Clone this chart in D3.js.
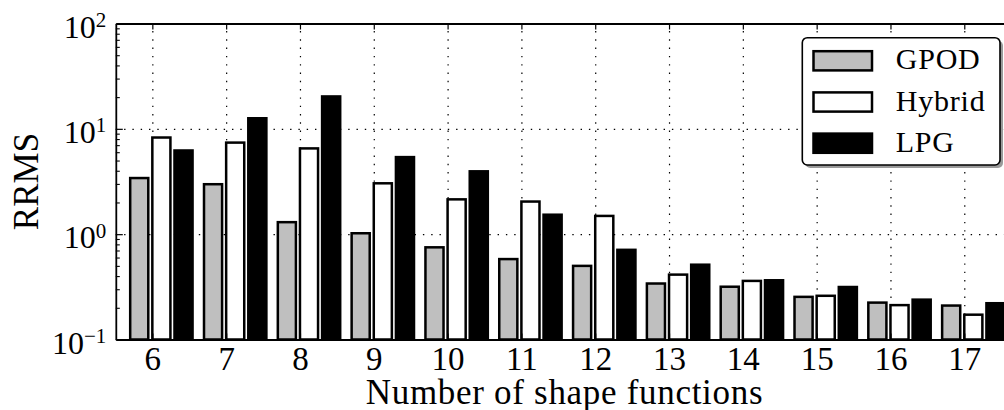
<!DOCTYPE html>
<html>
<head>
<meta charset="utf-8">
<script src="https://cdn.jsdelivr.net/npm/d3@7"></script>
<style>
  html, body { margin: 0; padding: 0; background: #ffffff; }
  svg { display: block; }
</style>
</head>
<body>
<svg id="chart" width="1004" height="410"></svg>
<script>
// Number of shape functions on the x axis
const categories = [6, 7, 8, 9, 10, 11, 12, 13, 14, 15, 16, 17];

// RRMS error per method
const gpod   = [3.41, 2.98, 1.30, 1.02, 0.75, 0.58, 0.50, 0.34, 0.317, 0.254, 0.224, 0.210];
const hybrid = [8.27, 7.40, 6.52, 3.04, 2.14, 2.04, 1.49, 0.413, 0.360, 0.260, 0.212, 0.172];
const lpg    = [6.23, 12.6, 20.3, 5.39, 3.95, 1.53, 0.71, 0.513, 0.365, 0.315, 0.239, 0.221];

const seriesNames = ["GPOD", "Hybrid", "LPG"];
const yTickExponents = [-1, 0, 1, 2];

const series = [
  { name: seriesNames[0], values: gpod,   fill: "#bfbfbf", offset: -0.3 },
  { name: seriesNames[1], values: hybrid, fill: "#ffffff", offset: 0 },
  { name: seriesNames[2], values: lpg,    fill: "#000000", offset: 0.3 }
];

const SERIF = "Liberation Serif";
const plot = { left: 115.8, top: 23.5, right: 1013, bottom: 339.5 };
const barWidth = 0.245;
const fontTickX = 33, fontTickY = 32, fontSup = 21;

const svg = d3.select("#chart").attr("font-family", SERIF);

const x = d3.scaleLinear().domain([5.505, 17.66]).range([plot.left, plot.right]);
const y = d3.scaleLog().domain([0.1, 100]).range([plot.bottom, plot.top]);

const majorY = yTickExponents.map(e => Math.pow(10, e));
const minorY = [];
for (let e = yTickExponents[0]; e < yTickExponents[yTickExponents.length - 1]; e++) {
  for (let k = 2; k <= 9; k++) minorY.push(k * Math.pow(10, e));
}

svg.append("defs").append("clipPath").attr("id", "plotClip")
  .append("rect")
  .attr("x", plot.left).attr("y", plot.top)
  .attr("width", plot.right - plot.left).attr("height", plot.bottom - plot.top);

// dotted grid, behind the bars
const gridStyle = g => {
  g.select(".domain").remove();
  g.selectAll(".tick line")
    .attr("stroke", "#000").attr("stroke-width", 1.2)
    .attr("stroke-dasharray", "1.4,6.9");
  g.selectAll(".tick text").remove();
};
svg.append("g")
  .attr("transform", `translate(0,${plot.bottom})`)
  .call(d3.axisBottom(x).tickValues(categories).tickSize(-(plot.bottom - plot.top)))
  .call(gridStyle);
svg.append("g")
  .attr("transform", `translate(${plot.left},0)`)
  .call(d3.axisLeft(y).tickValues([1, 10]).tickSize(-(plot.right - plot.left)))
  .call(gridStyle);

// bars
const bars = svg.append("g").attr("clip-path", "url(#plotClip)");
series.forEach(s => {
  bars.append("g").selectAll("rect")
    .data(s.values)
    .join("rect")
    .attr("x", (d, i) => x(categories[i] + s.offset))
    .attr("width", (d, i) => x(categories[i] + s.offset + barWidth) - x(categories[i] + s.offset))
    .attr("y", d => y(d))
    .attr("height", d => y(0.1) - y(d))
    .attr("fill", s.fill)
    .attr("stroke", "#000")
    .attr("stroke-width", 2.5);
});

// axes: inward ticks on all sides
const axisStyle = g => {
  g.attr("font-family", SERIF);
  g.select(".domain").attr("stroke", "#000").attr("stroke-width", 1.8);
  g.selectAll(".tick line").attr("stroke", "#000").attr("stroke-width", 1.2);
};

const xBottom = svg.append("g")
  .attr("transform", `translate(0,${plot.bottom})`)
  .call(d3.axisBottom(x).tickValues(categories).tickSize(-6).tickSizeOuter(0).tickPadding(7))
  .call(axisStyle);
xBottom.attr("font-size", fontTickX);
xBottom.selectAll(".tick text").attr("fill", "#000");

svg.append("g")
  .attr("transform", `translate(0,${plot.top})`)
  .call(d3.axisTop(x).tickValues(categories).tickSize(-6).tickSizeOuter(0).tickFormat(""))
  .call(axisStyle);

const yLeft = svg.append("g")
  .attr("transform", `translate(${plot.left},0)`)
  .call(d3.axisLeft(y).tickValues(majorY).tickSize(-7).tickSizeOuter(0).tickPadding(9.5).tickFormat(""))
  .call(axisStyle);
yLeft.attr("font-size", fontTickY);

svg.append("g")
  .attr("transform", `translate(${plot.left},0)`)
  .call(d3.axisLeft(y).tickValues(minorY).tickSize(-4).tickSizeOuter(0).tickFormat(""))
  .call(g => g.select(".domain").remove())
  .call(g => g.selectAll(".tick line").attr("stroke", "#000").attr("stroke-width", 1.1));

// power-of-ten labels with superscript exponents
yLeft.selectAll(".tick text")
  .attr("fill", "#000")
  .attr("dy", null)
  .attr("y", 13.5)
  .attr("text-anchor", "end")
  .each(function (d) {
    const e = Math.round(Math.log10(d));
    const t = d3.select(this);
    t.text(null);
    t.append("tspan").text("10");
    t.append("tspan")
      .attr("font-size", fontSup)
      .attr("dy", -10.5)
      .text(e < 0 ? "\u2212" + Math.abs(e) : String(e));
  });

// axis titles
svg.append("text")
  .attr("x", 564.5).attr("y", 403.5)
  .attr("text-anchor", "middle")
  .attr("font-size", 35)
  .attr("letter-spacing", 0.7)
  .text("Number of shape functions");

svg.append("text")
  .attr("transform", "translate(38,181.5) rotate(-90)")
  .attr("text-anchor", "middle")
  .attr("font-size", 35)
  .text("RRMS");

// legend with drop shadow
const legend = { x: 802.3, y: 37.7, w: 197.7, h: 127.3 };
const lg = svg.append("g");
lg.append("rect")
  .attr("x", legend.x + 3).attr("y", legend.y + 3)
  .attr("width", legend.w).attr("height", legend.h)
  .attr("rx", 5).attr("fill", "#9a9a9a");
lg.append("rect")
  .attr("x", legend.x).attr("y", legend.y)
  .attr("width", legend.w).attr("height", legend.h)
  .attr("rx", 5).attr("fill", "#fff")
  .attr("stroke", "#000").attr("stroke-width", 1.6);

const rowY = d3.scalePoint().domain(seriesNames).range([60.8, 143.2]);
series.forEach(s => {
  lg.append("rect")
    .attr("x", 813.5).attr("y", rowY(s.name) - 9.6)
    .attr("width", 58.5).attr("height", 19.2)
    .attr("fill", s.fill).attr("stroke", "#000").attr("stroke-width", 2.5);
  lg.append("text")
    .attr("x", 895.7).attr("y", rowY(s.name) + 8.5)
    .attr("font-size", 30)
    .attr("letter-spacing", 0.8)
    .text(s.name);
});
</script>
</body>
</html>
